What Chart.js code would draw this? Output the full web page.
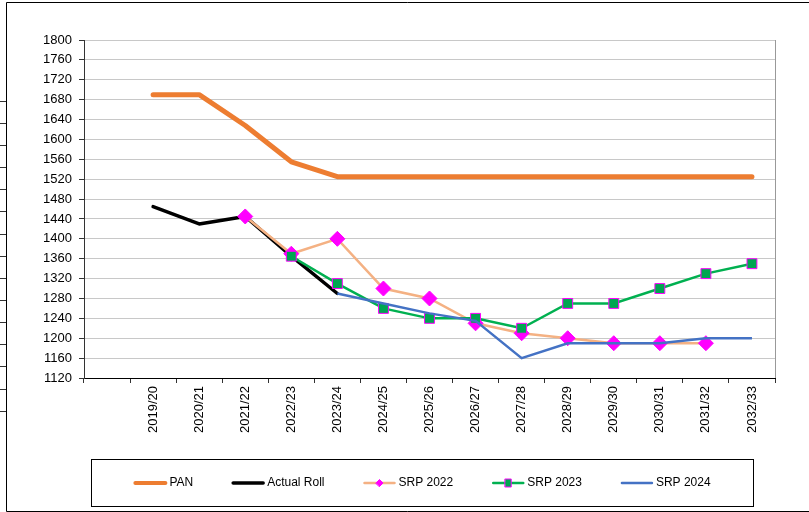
<!DOCTYPE html>
<html>
<head>
<meta charset="utf-8">
<script src="https://cdn.jsdelivr.net/npm/chart.js@4/dist/chart.umd.min.js"></script>
<style>
  html, body { margin: 0; padding: 0; background: #fff; }
  #wrap { width: 809px; height: 512px; position: relative; }
</style>
</head>
<body>
<div id="wrap"><canvas id="chart"></canvas></div>
<script>
// first slot is left empty on purpose, like the original sheet
const years = ['', '2019/20', '2020/21', '2021/22', '2022/23', '2023/24', '2024/25', '2025/26',
  '2026/27', '2027/28', '2028/29', '2029/30', '2030/31', '2031/32', '2032/33'];

const pan        = [null, 1690, 1690, 1628, 1555, 1525, 1525, 1525, 1525, 1525, 1525, 1525, 1525, 1525, 1525];
const actualRoll = [null, 1465, 1430, 1445, 1365, 1290, null, null, null, null, null, null, null, null, null];
const srp2022    = [null, null, null, 1445, 1370, 1400, 1300, 1280, 1230, 1210, 1200, 1190, 1190, 1190, null];
const srp2023    = [null, null, null, null, 1365, 1310, 1260, 1240, 1240, 1220, 1270, 1270, 1300, 1330, 1350];
const srp2024    = [null, null, null, null, null, 1290, 1270, 1250, 1235, 1160, 1190, 1190, 1190, 1200, 1200];

const yMin = 1120, yMax = 1800, yStep = 40;

const FONT = '"Liberation Sans", Arial, sans-serif';

// outer frame + right edge of plot area
const framePlugin = {
  id: 'frame',
  afterDraw(chart) {
    const ctx = chart.ctx;
    const a = chart.chartArea;
    ctx.save();
    ctx.strokeStyle = '#000';
    ctx.lineWidth = 1;
    ctx.beginPath();
    ctx.moveTo(809, 2.5); ctx.lineTo(6.5, 2.5); ctx.lineTo(6.5, 511.5); ctx.lineTo(809, 511.5);
    ctx.stroke();
    // stray tick marks left of the frame
    ctx.strokeStyle = '#333';
    for (let i = 0; i < 15; i++) {
      const y = Math.round(100.7 + i * 22.14) + 0.5;
      ctx.beginPath(); ctx.moveTo(0, y); ctx.lineTo(6, y); ctx.stroke();
    }
    ctx.strokeStyle = '#999';
    ctx.beginPath();
    ctx.moveTo(Math.round(a.right) + 0.5, a.top);
    ctx.lineTo(Math.round(a.right) + 0.5, a.bottom);
    ctx.stroke();
    ctx.restore();
  }
};

// boxed legend at the bottom, like Excel
const legendPlugin = {
  id: 'boxLegend',
  afterDraw(chart) {
    const ctx = chart.ctx;
    const sets = chart.data.datasets;
    ctx.save();
    ctx.strokeStyle = '#000';
    ctx.lineWidth = 1;
    ctx.strokeRect(91.5, 459.5, 662, 47);
    ctx.font = '12px ' + FONT;
    ctx.textBaseline = 'middle';
    ctx.fillStyle = '#000';
    const sample = 34, gap = 2, between = 38;
    const widths = sets.map(ds => sample + gap + ctx.measureText(ds.label).width);
    const total = widths.reduce((s, w) => s + w, 0) + between * (sets.length - 1);
    let x = 422 - total / 2;
    const y = 483;
    sets.forEach((ds, i) => {
      ctx.strokeStyle = ds.borderColor;
      ctx.lineWidth = Math.min(ds.borderWidth, 4);
      ctx.lineCap = 'round';
      ctx.beginPath(); ctx.moveTo(x + 2, y); ctx.lineTo(x + sample - 2, y); ctx.stroke();
      if (ds.pointRadius > 0) {
        ctx.fillStyle = ds.pointBackgroundColor;
        ctx.strokeStyle = ds.pointBorderColor;
        ctx.lineWidth = 1;
        const cx = x + sample / 2;
        ctx.beginPath();
        if (ds.pointStyle === 'rectRot') {
          ctx.moveTo(cx - 3.5, y); ctx.lineTo(cx, y - 3.5); ctx.lineTo(cx + 3.5, y); ctx.lineTo(cx, y + 3.5);
          ctx.closePath();
        } else {
          ctx.rect(cx - 3, y - 4, 6, 8);
        }
        ctx.fill(); ctx.stroke();
      }
      ctx.fillStyle = '#000';
      ctx.fillText(ds.label, x + sample + gap, y);
      x += widths[i] + between;
    });
    ctx.restore();
  }
};

const ctx = document.getElementById('chart').getContext('2d');

new Chart(ctx, {
  type: 'line',
  data: {
    labels: years,
    datasets: [
      {
        label: 'PAN',
        data: pan,
        borderColor: '#ED7D31',
        backgroundColor: '#ED7D31',
        borderWidth: 5,
        borderCapStyle: 'round',
        borderJoinStyle: 'round',
        pointRadius: 0,
        order: 5
      },
      {
        label: 'Actual Roll',
        data: actualRoll,
        borderColor: '#000000',
        backgroundColor: '#000000',
        borderWidth: 3.5,
        borderCapStyle: 'round',
        borderJoinStyle: 'round',
        pointRadius: 0,
        order: 4
      },
      {
        label: 'SRP 2022',
        data: srp2022,
        borderColor: '#F4B183',
        backgroundColor: '#FF00FF',
        borderWidth: 2.5,
        pointStyle: 'rectRot',
        pointRadius: 7.5,
        pointBackgroundColor: '#FF00FF',
        pointBorderColor: '#FF00FF',
        pointBorderWidth: 1,
        order: 3
      },
      {
        label: 'SRP 2023',
        data: srp2023,
        borderColor: '#00B050',
        backgroundColor: '#00B050',
        borderWidth: 2.5,
        pointStyle: 'rect',
        pointRadius: 7,
        pointBackgroundColor: '#00A651',
        pointBorderColor: '#FF00FF',
        pointBorderWidth: 1,
        order: 2
      },
      {
        label: 'SRP 2024',
        data: srp2024,
        borderColor: '#4472C4',
        backgroundColor: '#4472C4',
        borderWidth: 2.5,
        pointRadius: 0,
        order: 1
      }
    ]
  },
  options: {
    responsive: true,
    maintainAspectRatio: false,
    animation: false,
    layout: { padding: { left: 0, top: 40, right: 34, bottom: 0 } },
    elements: { line: { tension: 0 } },
    scales: {
      x: {
        offset: true,
        grid: {
          offset: true,
          drawOnChartArea: false,
          drawTicks: true,
          tickLength: 5,
          tickColor: '#333'
        },
        border: { color: '#000', width: 1 },
        ticks: {
          autoSkip: false,
          minRotation: 90,
          maxRotation: 90,
          padding: 3,
          color: '#000',
          font: { family: FONT, size: 13 }
        },
        afterFit(scale) { scale.height = 134; }
      },
      y: {
        min: yMin,
        max: yMax,
        grid: {
          color: '#C8C8C8',
          tickColor: '#333',
          tickLength: 5,
          lineWidth: 1
        },
        border: { color: '#333', width: 1 },
        ticks: {
          stepSize: yStep,
          padding: 7,
          color: '#000',
          font: { family: FONT, size: 13 },
          callback: v => String(v)
        },
        afterFit(scale) { scale.width = 84; }
      }
    },
    plugins: {
      legend: { display: false },
      tooltip: { enabled: false }
    }
  },
  plugins: [framePlugin, legendPlugin]
});
</script>
</body>
</html>
